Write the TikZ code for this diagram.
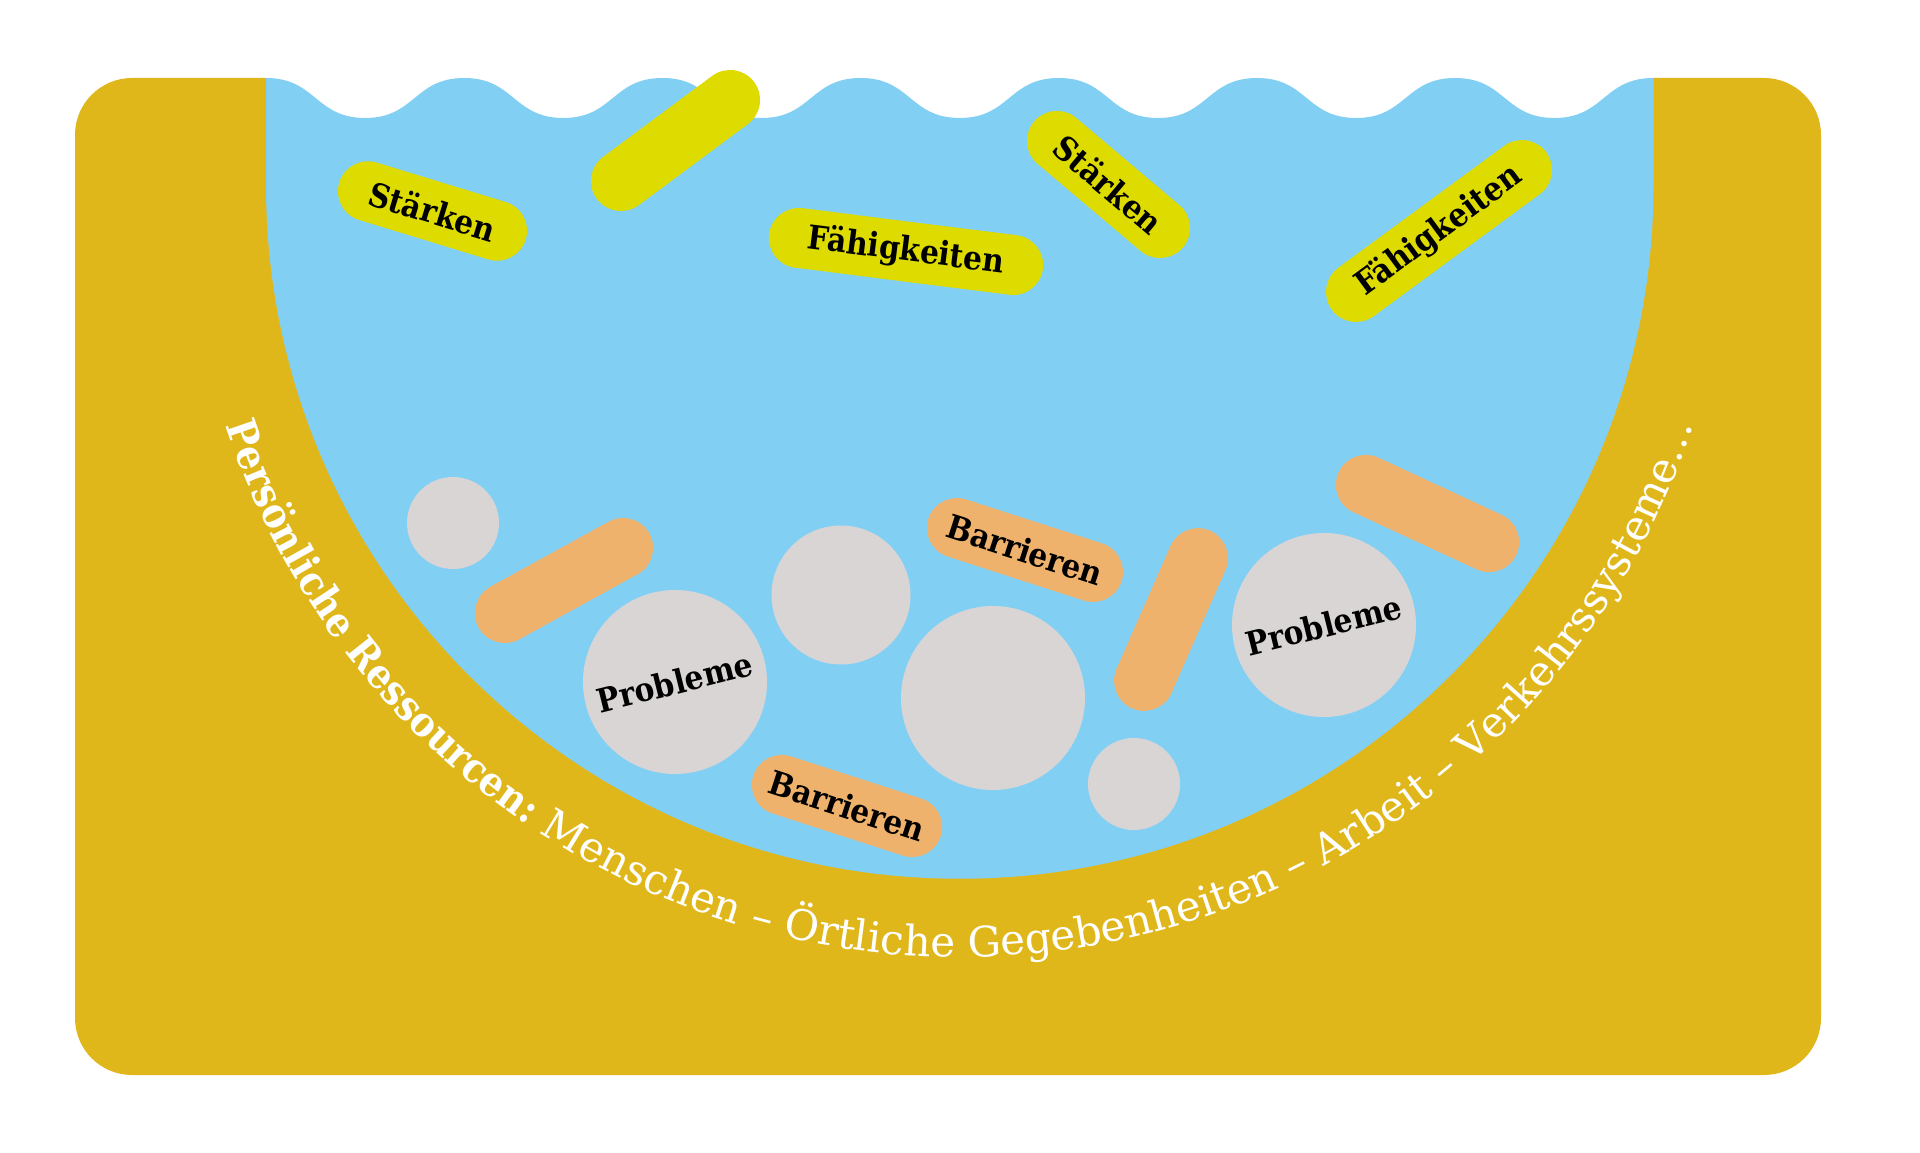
\documentclass[tikz,border=0pt]{standalone}
\usepackage{fontspec}
\usetikzlibrary{decorations.text}
\newfontfamily\lblfont[FakeStretch=0.9]{DejaVu Serif}
\newfontfamily\arcfnt{DejaVu Serif}
\definecolor{gold}{RGB}{224,183,27}
\definecolor{water}{RGB}{130,207,244}
\definecolor{ylw}{RGB}{221,219,0}
\definecolor{orng}{RGB}{239,178,109}
\definecolor{stone}{RGB}{218,213,213}
\tikzset{
  pill/.style={rectangle, rounded corners=30pt, minimum height=60pt, inner sep=0pt,
    font=\lblfont\bfseries\fontsize{33}{39}\selectfont, text=black},
  ypill/.style={pill, fill=ylw},
  opill/.style={pill, fill=orng},
  blob/.style={circle, fill=stone, inner sep=0pt,
    font=\lblfont\bfseries\fontsize{33}{39}\selectfont, text=black},
}
\begin{document}
\begin{tikzpicture}[x=1pt,y=1pt]
\useasboundingbox (0,0) rectangle (1920,1152);
% ground
\fill[gold, rounded corners=57pt] (75,77) rectangle (1821,1074);
\fill[white] (267,1030) rectangle (1652,1080);
% water bowl
\fill[water] (266,1074)
  \foreach \i in {1,...,7}{
    .. controls +(50,0) and +(-50,0) .. ++(99.1,-40)
    .. controls +(50,0) and +(-50,0) .. ++(99.1,40)
  }
  -- (1653.5,1074) -- (1653.5,967) arc[start angle=0, end angle=-180, radius=693.75] -- cycle;
\coordinate (c) at (959.5,967);
% yellow pills
\node[ypill, minimum width=195pt, rotate=-17] (s1) at (432.5,941) {Stärken};
\node[ypill, minimum width=196pt, rotate=36.6] (y2) at (675.5,1011.5) {};
\node[ypill, minimum width=276pt, rotate=-7.2] (f1) at (906,900.5) {Fähigkeiten};
\node[ypill, minimum width=195pt, rotate=-40.2] (s2) at (1108.5,967.5) {Stärken};
\node[ypill, minimum width=266pt, rotate=36.3] (f2) at (1439,921) {Fähigkeiten};
% grey stones
\node[blob, minimum size=92pt] (g1) at (453,629) {};
\node[blob, minimum size=184pt, rotate=14] (p1) at (675,470) {Probleme};
\node[blob, minimum size=139pt] (g2) at (841,557) {};
\node[blob, minimum size=184pt] (g3) at (993,454) {};
\node[blob, minimum size=92pt] (g4) at (1134,368) {};
\node[blob, minimum size=184pt, rotate=14] (p2) at (1324,527) {Probleme};
% orange pills
\node[opill, minimum width=195pt, rotate=28.8] (o1) at (564,571.5) {};
\node[opill, minimum width=203pt, rotate=-17.9] (b1) at (1025,602) {Barrieren};
\node[opill, minimum width=194pt, rotate=66.3] (o3) at (1171,532.5) {};
\node[opill, minimum width=196pt, rotate=-24.9] (o4) at (1427.5,638.5) {};
\node[opill, minimum width=197pt, rotate=-17.9] (b2) at (847,346) {Barrieren};
% curved text
\path[decorate, decoration={text along path, text align=center,
  text={|\lblfont\fontsize{41}{49}\selectfont\color{white}\bfseries|Persönliche Ressourcen:|\arcfnt\fontsize{42}{50}\selectfont\color{white}\mdseries| Menschen – Örtliche Gegebenheiten – Arbeit – Verkehrssysteme…}}]
  (c) ++(186:772) arc[start angle=186, end angle=354, radius=772];
\end{tikzpicture}
\end{document}
